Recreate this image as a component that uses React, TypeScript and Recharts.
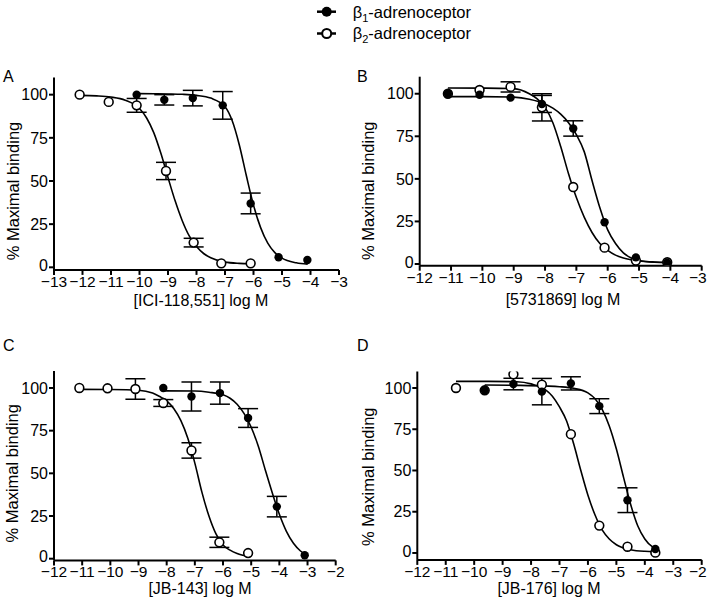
import React from "react";
import {
  ComposedChart,
  ErrorBar,
  Label,
  Line,
  Scatter,
  XAxis,
  YAxis,
} from "recharts";

const FONT = '"Liberation Sans", Arial, Helvetica, sans-serif';

// ---- Panel A: [ICI-118,551]
const aB1Points = [
  { x: -10.1, y: 100, err: null },
  { x: -9.13, y: 97, err: 3 },
  { x: -8.13, y: 98, err: 4.5 },
  { x: -7.08, y: 93.8, err: 8 },
  { x: -6.1, y: 37, err: 6 },
  { x: -5.12, y: 5.8, err: null },
  { x: -4.11, y: 4.2, err: null },
];
const aB2Points = [
  { x: -12.1, y: 100, err: null },
  { x: -11.08, y: 95.8, err: null },
  { x: -10.1, y: 93.8, err: 4 },
  { x: -9.07, y: 55.8, err: 5 },
  { x: -8.1, y: 14.3, err: 2.5 },
  { x: -7.13, y: 2.3, err: null },
  { x: -6.1, y: 2.3, err: null },
];
const aB1Curve = [
  { x: -10.1, y: 100.6 }, { x: -9.5, y: 100.5 }, { x: -9, y: 100.4 },
  { x: -8.5, y: 100.2 }, { x: -8, y: 99.6 }, { x: -7.5, y: 98 },
  { x: -7, y: 93 }, { x: -6.75, y: 85 }, { x: -6.5, y: 71 },
  { x: -6.25, y: 53 }, { x: -6, y: 36 }, { x: -5.75, y: 23 },
  { x: -5.5, y: 14 }, { x: -5.25, y: 8.5 }, { x: -5, y: 5.3 },
  { x: -4.5, y: 2.6 }, { x: -4.1, y: 1.8 },
];
const aB2Curve = [
  { x: -12.1, y: 99.6 }, { x: -11.5, y: 99.3 }, { x: -11, y: 98.6 },
  { x: -10.5, y: 96.8 }, { x: -10, y: 92 }, { x: -9.75, y: 86.5 },
  { x: -9.5, y: 78 }, { x: -9.25, y: 66 }, { x: -9, y: 52 },
  { x: -8.75, y: 38.5 }, { x: -8.5, y: 27 }, { x: -8.25, y: 18 },
  { x: -8, y: 12 }, { x: -7.75, y: 8 }, { x: -7.5, y: 5.5 },
  { x: -7, y: 3 }, { x: -6.5, y: 2.3 }, { x: -6.1, y: 2.1 },
];

// ---- Panel B: [5731869]
const bB1Points = [
  { x: -11.1, y: 100, err: null },
  { x: -10.09, y: 99.4, err: null },
  { x: -9.1, y: 97.7, err: null },
  { x: -8.1, y: 94, err: 5 },
  { x: -7.1, y: 79.6, err: 4.5 },
  { x: -6.1, y: 24.5, err: null },
  { x: -5.1, y: 3.9, err: null },
  { x: -4.1, y: 0.8, err: null },
];
const bB2Points = [
  { x: -11.1, y: 100, err: null },
  { x: -10.09, y: 102.2, err: null },
  { x: -9.1, y: 104, err: 3 },
  { x: -8.1, y: 92, err: 8 },
  { x: -7.1, y: 45.2, err: null },
  { x: -6.1, y: 9.6, err: null },
  { x: -5.1, y: 2, err: null },
  { x: -4.1, y: 1, err: null },
];
const bB1Curve = [
  { x: -11.1, y: 98.3 }, { x: -10, y: 98.3 }, { x: -9, y: 98 },
  { x: -8.5, y: 96.8 }, { x: -8, y: 94 }, { x: -7.75, y: 91.5 },
  { x: -7.5, y: 88 }, { x: -7.25, y: 83 }, { x: -7, y: 76 },
  { x: -6.75, y: 66 }, { x: -6.5, y: 49 }, { x: -6.25, y: 33 },
  { x: -6, y: 20 }, { x: -5.75, y: 12 }, { x: -5.5, y: 6.5 },
  { x: -5.25, y: 3.5 }, { x: -5, y: 2 }, { x: -4.5, y: 1 },
  { x: -4.1, y: 0.8 },
];
const bB2Curve = [
  { x: -11.1, y: 103.4 }, { x: -10, y: 103.3 }, { x: -9, y: 103 },
  { x: -8.5, y: 100 }, { x: -8.25, y: 97 }, { x: -8, y: 92 },
  { x: -7.75, y: 83 }, { x: -7.5, y: 69 }, { x: -7.25, y: 53 },
  { x: -7, y: 39 }, { x: -6.75, y: 27.5 }, { x: -6.5, y: 18.5 },
  { x: -6.25, y: 12 }, { x: -6, y: 8 }, { x: -5.75, y: 5.2 },
  { x: -5.5, y: 3.5 }, { x: -5, y: 1.8 }, { x: -4.5, y: 1.2 },
  { x: -4.1, y: 1 },
];

// ---- Panel C: [JB-143]
const cB1Points = [
  { x: -8.12, y: 100, err: null },
  { x: -7.12, y: 95, err: 8.5 },
  { x: -6.11, y: 97, err: 6.5 },
  { x: -5.11, y: 82.4, err: 5.5 },
  { x: -4.09, y: 30.5, err: 6 },
  { x: -3.1, y: 2, err: null },
];
const cB2Points = [
  { x: -11.1, y: 100, err: null },
  { x: -10.1, y: 99.8, err: null },
  { x: -9.11, y: 99.4, err: 6 },
  { x: -8.12, y: 91.2, err: 2 },
  { x: -7.12, y: 63.4, err: 4.5 },
  { x: -6.13, y: 9.6, err: 3 },
  { x: -5.11, y: 3.3, err: null },
];
const cB1Curve = [
  { x: -8.1, y: 98.3 }, { x: -7, y: 98.2 }, { x: -6.5, y: 97.5 },
  { x: -6, y: 96 }, { x: -5.75, y: 94 }, { x: -5.5, y: 90.5 },
  { x: -5.25, y: 85 }, { x: -5, y: 77 }, { x: -4.75, y: 66 },
  { x: -4.5, y: 52 }, { x: -4.25, y: 38.5 }, { x: -4, y: 26 },
  { x: -3.75, y: 16 }, { x: -3.5, y: 9 }, { x: -3.25, y: 4.5 },
  { x: -3.1, y: 2.8 },
];
const cB2Curve = [
  { x: -11.1, y: 99.2 }, { x: -10, y: 99.1 }, { x: -9, y: 98.7 },
  { x: -8.5, y: 97 }, { x: -8.25, y: 95 }, { x: -8, y: 92.5 },
  { x: -7.75, y: 88 }, { x: -7.5, y: 81 }, { x: -7.25, y: 70.5 },
  { x: -7, y: 56 }, { x: -6.75, y: 39 }, { x: -6.5, y: 25 },
  { x: -6.25, y: 14.5 }, { x: -6, y: 8 }, { x: -5.75, y: 5 },
  { x: -5.5, y: 3 }, { x: -5.1, y: 1.2 },
];

// ---- Panel D: [JB-176]
const dB1Points = [
  { x: -9.63, y: 98.6, err: null },
  { x: -8.62, y: 102.4, err: 3.5 },
  { x: -7.62, y: 97.8, err: 8 },
  { x: -6.6, y: 102.8, err: 4 },
  { x: -5.6, y: 89, err: 4.5 },
  { x: -4.61, y: 32, err: 7.5 },
  { x: -3.63, y: 2.4, err: null },
];
const dB2Points = [
  { x: -10.64, y: 100, err: null },
  { x: -9.63, y: 98.6, err: null },
  { x: -8.62, y: 108.3, err: null },
  { x: -7.62, y: 102, err: null },
  { x: -6.6, y: 72, err: null },
  { x: -5.6, y: 16.6, err: null },
  { x: -4.61, y: 3.8, err: null },
  { x: -3.63, y: 0.2, err: null },
];
const dB1Curve = [
  { x: -9.63, y: 101.8 }, { x: -8.5, y: 101.6 }, { x: -7.5, y: 101.2 },
  { x: -7, y: 100.8 }, { x: -6.5, y: 99.8 }, { x: -6, y: 97 },
  { x: -5.75, y: 93.5 }, { x: -5.5, y: 87 }, { x: -5.25, y: 77 },
  { x: -5, y: 63 }, { x: -4.75, y: 46 }, { x: -4.5, y: 29.5 },
  { x: -4.25, y: 16.5 }, { x: -4, y: 8.5 }, { x: -3.75, y: 4 },
  { x: -3.63, y: 3 },
];
const dB2Curve = [
  { x: -10.64, y: 104 }, { x: -9.5, y: 104 }, { x: -8.5, y: 103.8 },
  { x: -8, y: 102.5 }, { x: -7.5, y: 99 }, { x: -7.25, y: 95 },
  { x: -7, y: 88.5 }, { x: -6.75, y: 80 }, { x: -6.5, y: 66 },
  { x: -6.25, y: 50 }, { x: -6, y: 35 }, { x: -5.75, y: 23 },
  { x: -5.5, y: 14 }, { x: -5.25, y: 8.5 }, { x: -5, y: 5 },
  { x: -4.5, y: 2 }, { x: -4, y: 1 }, { x: -3.63, y: 0.8 },
];

const yTicks = [0, 25, 50, 75, 100];
const ticksA = [-13, -12, -11, -10, -9, -8, -7, -6, -5, -4, -3];
const ticksB = [-12, -11, -10, -9, -8, -7, -6, -5, -4, -3];
const ticksCD = [-12, -11, -10, -9, -8, -7, -6, -5, -4, -3, -2];

const minus = (v: number) => String(v).replace("-", "\u2212");

const FilledDot = (p: any) => (
  <circle cx={p.cx} cy={p.cy} r={4.2} fill="#000" />
);
const OpenDot = (p: any) => (
  <circle cx={p.cx} cy={p.cy} r={4.4} fill="#fff" stroke="#000" strokeWidth={1.6} />
);

const axisStroke = { stroke: "#000", strokeWidth: 2 };

// y tick; "0" is nudged up a little so it clears the x tick labels
const YTick = (p: any) => (
  <text
    x={p.x}
    y={p.y - (p.payload.value === 0 ? 2 : 0)}
    dy="0.355em"
    textAnchor="end"
    fontSize={16}
    fontFamily={FONT}
    fill="#000"
  >
    {p.payload.value}
  </text>
);

// x tick; the last label is pulled inside when it sits at the page edge
const makeXTick = (lastValue: number | null) => (p: any) => {
  const atEdge = lastValue !== null && p.payload.value === lastValue;
  return (
    <text
      x={atEdge ? p.x + 5 : p.x}
      y={p.y + 1}
      dy="0.71em"
      textAnchor={atEdge ? "end" : "middle"}
      fontSize={15.5}
      fontFamily={FONT}
      fill="#000"
    >
      {minus(p.payload.value)}
    </text>
  );
};

function Panel(props: any) {
  const {
    left, top, width, height, margin, yWidth, xDomain, xTicks, yDomain,
    b1Pts, b2Pts, b1Curve, b2Curve, xLabel, xLabelPos, yLabelPos, edgeTick,
  } = props;
  return (
    <div style={{ position: "absolute", left, top }}>
      <ComposedChart width={width} height={height} margin={margin}>
        <XAxis
          dataKey="x"
          type="number"
          domain={xDomain}
          ticks={xTicks}
          interval={0}
          allowDataOverflow
          height={40}
          axisLine={axisStroke}
          tickLine={axisStroke}
          tickSize={5}
          tickMargin={0}
          tick={makeXTick(edgeTick)}
        >
          <Label
            content={() => (
              <text
                x={xLabelPos[0]}
                y={xLabelPos[1]}
                textAnchor="middle"
                dominantBaseline="central"
                fontSize={16}
                fontFamily={FONT}
                fill="#000"
              >
                {xLabel}
              </text>
            )}
          />
        </XAxis>
        <YAxis
          dataKey="y"
          type="number"
          domain={yDomain}
          ticks={yTicks}
          interval={0}
          allowDataOverflow
          width={yWidth}
          axisLine={axisStroke}
          tickLine={axisStroke}
          tickSize={5}
          tickMargin={1}
          tick={YTick}
        >
          <Label
            content={() => (
              <text
                x={yLabelPos[0]}
                y={yLabelPos[1]}
                transform={`rotate(-90 ${yLabelPos[0]} ${yLabelPos[1]})`}
                textAnchor="middle"
                dominantBaseline="central"
                fontSize={16.5}
                fontFamily={FONT}
                fill="#000"
              >
                % Maximal binding
              </text>
            )}
          />
        </YAxis>
        <Line data={b2Curve} dataKey="y" type="monotone" dot={false} stroke="#000" strokeWidth={1.6} isAnimationActive={false} />
        <Line data={b1Curve} dataKey="y" type="monotone" dot={false} stroke="#000" strokeWidth={1.6} isAnimationActive={false} />
        <Scatter data={b2Pts} dataKey="y" shape={OpenDot} isAnimationActive={false}>
          <ErrorBar dataKey="err" direction="y" width={10} stroke="#000" strokeWidth={1.5} />
        </Scatter>
        <Scatter data={b1Pts} dataKey="y" shape={FilledDot} isAnimationActive={false}>
          <ErrorBar dataKey="err" direction="y" width={10} stroke="#000" strokeWidth={1.5} />
        </Scatter>
      </ComposedChart>
    </div>
  );
}

function Sub({ n }: { n: string }) {
  return (
    <>
      <tspan>β</tspan>
      <tspan dy={4} fontSize={11}>{n}</tspan>
      <tspan dy={-4}>-adrenoceptor</tspan>
    </>
  );
}

export default function App() {
  return (
    <div
      style={{
        position: "absolute",
        left: 0,
        top: 0,
        width: 708,
        height: 612,
        background: "#fff",
        fontFamily: FONT,
      }}
    >
      <Panel
        left={0}
        top={60}
        width={354}
        height={260}
        margin={{ top: 17.4, right: 15, bottom: 10.1, left: 0 }}
        yWidth={54}
        xDomain={[-13, -3]}
        xTicks={ticksA}
        edgeTick={null}
        yDomain={[-1.5, 110]}
        b1Pts={aB1Points}
        b2Pts={aB2Points}
        b1Curve={aB1Curve}
        b2Curve={aB2Curve}
        xLabel="[ICI-118,551] log M"
        xLabelPos={[201, 240]}
        yLabelPos={[12.5, 131]}
      />
      <Panel
        left={354}
        top={60}
        width={354}
        height={260}
        margin={{ top: 16.7, right: 6.3, bottom: 14.3, left: 0 }}
        yWidth={65.7}
        xDomain={[-12, -3]}
        xTicks={ticksB}
        edgeTick={-3}
        yDomain={[-1, 110]}
        b1Pts={bB1Points}
        b2Pts={bB2Points}
        b1Curve={bB1Curve}
        b2Curve={bB2Curve}
        xLabel="[5731869] log M"
        xLabelPos={[209, 239.3]}
        yLabelPos={[14, 130.7]}
      />
      <Panel
        left={0}
        top={330}
        width={354}
        height={282}
        margin={{ top: 40.9, right: 18.3, bottom: 11.6, left: 0 }}
        yWidth={54}
        xDomain={[-12, -2]}
        xTicks={ticksCD}
        edgeTick={null}
        yDomain={[-1, 110]}
        b1Pts={cB1Points}
        b2Pts={cB2Points}
        b1Curve={cB1Curve}
        b2Curve={cB2Curve}
        xLabel="[JB-143] log M"
        xLabelPos={[200, 258]}
        yLabelPos={[12.3, 143.3]}
      />
      <Panel
        left={354}
        top={330}
        width={354}
        height={282}
        margin={{ top: 41.5, right: 6.3, bottom: 12.1, left: 0 }}
        yWidth={63.3}
        xDomain={[-12, -2]}
        xTicks={ticksCD}
        edgeTick={-2}
        yDomain={[-4.2, 110]}
        b1Pts={dB1Points}
        b2Pts={dB2Points}
        b1Curve={dB1Curve}
        b2Curve={dB2Curve}
        xLabel="[JB-176] log M"
        xLabelPos={[195, 258]}
        yLabelPos={[14, 146.7]}
      />
      <svg
        width={708}
        height={612}
        style={{ position: "absolute", left: 0, top: 0, pointerEvents: "none" }}
      >
        <g fontFamily={FONT} fontSize={16} fill="#000">
          <text x={3} y={81.5}>A</text>
          <text x={357} y={81.5}>B</text>
          <text x={3} y={351}>C</text>
          <text x={357} y={351}>D</text>
        </g>
        <line x1={317} x2={336} y1={11.7} y2={11.7} stroke="#000" strokeWidth={2.5} />
        <circle cx={326.7} cy={11.7} r={5} fill="#000" />
        <line x1={317} x2={336} y1={33.5} y2={33.5} stroke="#000" strokeWidth={2.5} />
        <circle cx={326.7} cy={33.5} r={4.5} fill="#fff" stroke="#000" strokeWidth={2} />
        <g fontFamily={FONT} fontSize={16.5} fill="#000">
          <text x={352.7} y={17.5}>
            <Sub n="1" />
          </text>
          <text x={352.7} y={39.3}>
            <Sub n="2" />
          </text>
        </g>
      </svg>
    </div>
  );
}
